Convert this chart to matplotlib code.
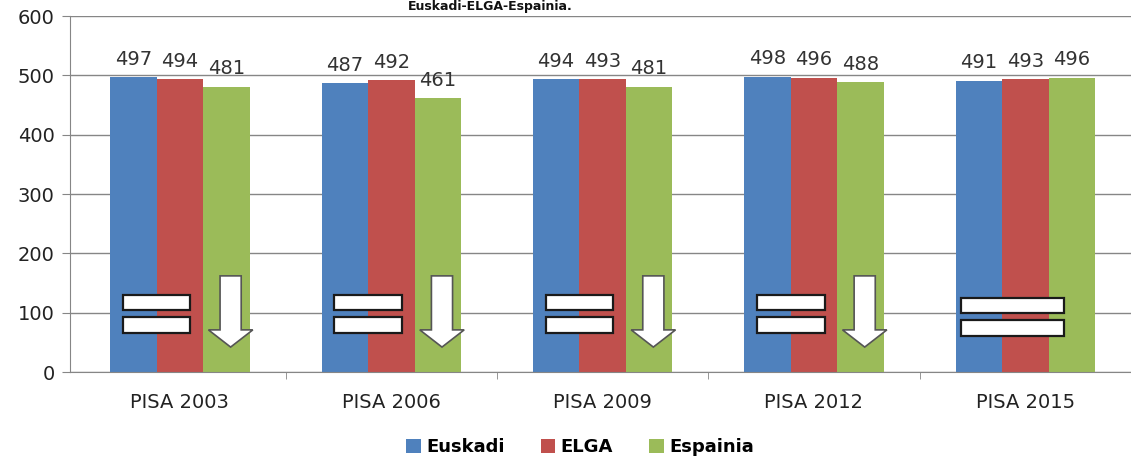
import matplotlib
matplotlib.use("Agg")
import matplotlib.pyplot as plt
from matplotlib.patches import Rectangle, Polygon
import numpy as np

categories = ["PISA 2003", "PISA 2006", "PISA 2009", "PISA 2012", "PISA 2015"]
euskadi = [497, 487, 494, 498, 491]
elga = [494, 492, 493, 496, 493]
espainia = [481, 461, 481, 488, 496]
series_names = ["Euskadi", "ELGA", "Espainia"]
# comparison markers: "eq" = equal signs, "eqdown" = equal signs + down arrow
markers = ["eqdown", "eqdown", "eqdown", "eqdown", "eq"]
yticks = [0, 100, 200, 300, 400, 500, 600]
title = "Euskadi-ELGA-Espainia."

colors = ["#4F81BD", "#C0504D", "#9BBB59"]
plt.rcParams['font.family'] = ['DejaVu Sans']

fig = plt.figure(figsize=(11.31, 4.57), dpi=100)
ax = fig.add_axes([70/1131, 1-372/457, 1-70/1131, (372-16)/457])

x = np.arange(len(categories))
w = 0.22
data = [euskadi, elga, espainia]
for i, (vals, c) in enumerate(zip(data, colors)):
    pos = x + (i - 1) * w
    ax.bar(pos, vals, width=w, color=c, label=series_names[i], zorder=2)
    for p, v in zip(pos, vals):
        ax.annotate(str(v), (p, v), xytext=(0, 6), textcoords="offset points",
                    ha="center", va="bottom", fontsize=14, color="#333333", zorder=4)

# overlay symbols
for xi, m in zip(x, markers):
    if m == "eq":
        x0, x1 = xi - 0.305, xi + 0.185
        ys = [(100, 125), (61, 88)]
    else:
        x0, x1 = xi - 0.27, xi + 0.05
        ys = [(104, 130), (66, 93)]
    for (ya, yb) in ys:
        ax.add_patch(Rectangle((x0, ya), x1 - x0, yb - ya, facecolor="white",
                               edgecolor="#1a1a1a", linewidth=1.6, zorder=5))
    if m == "eqdown":
        cx = xi + 0.24
        sh = 0.05
        hh = 0.105
        pts = [(cx - sh, 162), (cx + sh, 162), (cx + sh, 71), (cx + hh, 71),
               (cx, 42), (cx - hh, 71), (cx - sh, 71)]
        ax.add_patch(Polygon(pts, closed=True, facecolor="white",
                             edgecolor="#555555", linewidth=1.2, zorder=5))

ax.set_ylim(0, 600)
ax.set_yticks(yticks)
ax.set_xlim(-0.52, 4.455)
ax.set_xticks(x)
ax.set_xticklabels(categories, fontsize=14, color="#222222")
ax.set_xticks(np.arange(0.5, 4.6, 1.0), minor=True)
ax.tick_params(axis="x", which="major", length=0, pad=15)
ax.tick_params(axis="x", which="minor", length=5, color="#868686", direction="out")
ax.tick_params(axis="y", length=6, color="#868686", direction="out", labelsize=14,
               labelcolor="#222222", pad=5)
ax.yaxis.grid(True, color="#868686", linewidth=1.0, zorder=0)
ax.set_axisbelow(True)
for s in ["top", "right"]:
    ax.spines[s].set_visible(False)
ax.spines["left"].set_color("#868686")
ax.spines["bottom"].set_color("#868686")

fig.legend(loc="center", bbox_to_anchor=(580/1131, 1-447/457), ncol=3,
           frameon=False, prop={"weight": "bold", "size": 13},
           handlelength=0.8, handleheight=0.8, handletextpad=0.3,
           columnspacing=2.0)
fig.text(490/1131, 1.0, title, ha="center", va="top", fontsize=9,
         fontweight="bold", color="#111111")

fig.savefig("out.png", dpi=100)
